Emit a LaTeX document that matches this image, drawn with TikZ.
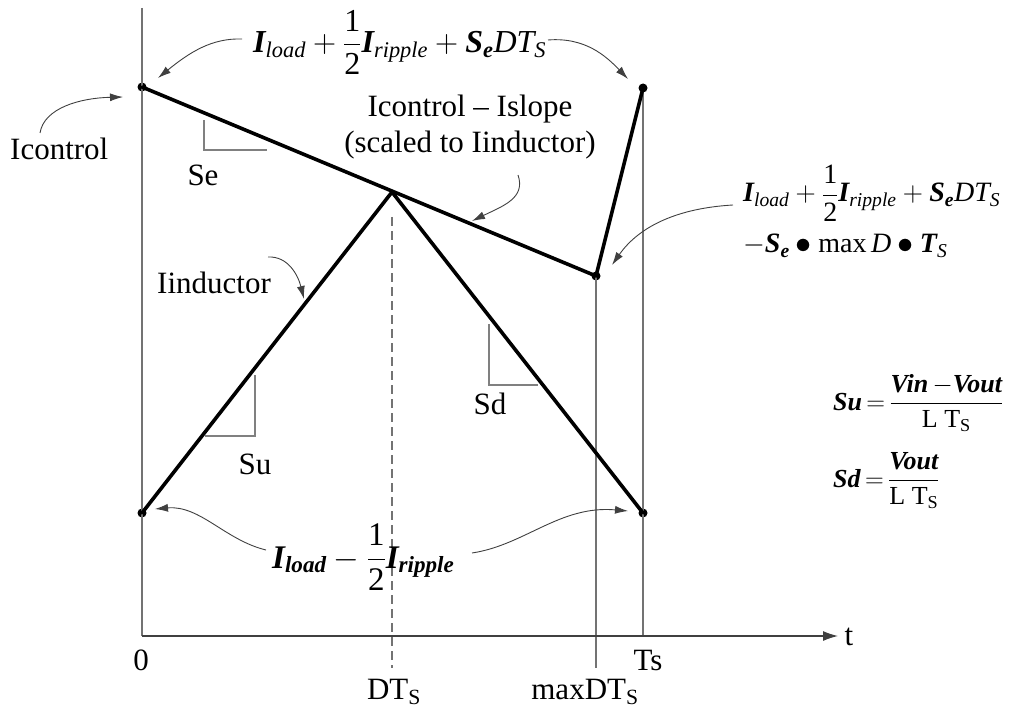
\RequirePackage{fix-cm}
\documentclass[tikz,border=0pt]{standalone}
\usepackage{amsmath}
\usepackage{fontspec}
\setmainfont{Liberation Serif}
\usetikzlibrary{arrows.meta}
\newcommand\bi[1]{\text{\bfseries\itshape #1}}
\newcommand\ii[1]{\text{\itshape #1}}
\newcommand\rr[1]{\text{\upshape #1}}
\newcommand\bul{\mathbin{\vcenter{\hbox{\scalebox{1.15}{$\bullet$}}}}}
\begin{document}
\begin{tikzpicture}[x=1pt,y=-1pt,
  thickline/.style={line width=3.6pt, line cap=round, line join=round},
  guide/.style={line width=1.1pt, draw=black!55},
  axisline/.style={line width=1.2pt, draw=black!75},
  bracket/.style={line width=1.1pt, draw=black!50},
  dot/.style={circle, fill=black, inner sep=0pt, minimum size=9pt},
  callout/.style={line width=0.9pt, draw=black!75, -{Latex[length=13pt,width=8pt]}},
  lbl/.style={inner sep=0pt, font=\fontsize{31}{36}\selectfont},
  fmt/.style={inner sep=0pt, font=\fontsize{32}{38}\selectfont},
  fmr/.style={inner sep=0pt, font=\fontsize{28}{34}\selectfont},
  fmb/.style={inner sep=0pt, font=\fontsize{33}{40}\selectfont},
  fms/.style={inner sep=0pt, font=\fontsize{26}{31}\selectfont}
]
\useasboundingbox (0,0) rectangle (1011,711);

% key points
\node[dot] (c0) at (142,87) {};
\node[dot] (cm) at (596,276) {};
\node[dot] (c1) at (643,88) {};
\node[dot] (b0) at (142,513) {};
\node[dot] (b1) at (643,513) {};
\coordinate (pk) at (392,192);
\coordinate (ytop) at (142,8);
\coordinate (o) at (142,636);
\coordinate (tend) at (838,636);
\coordinate (tsb) at (643,636);
\coordinate (mxb) at (596,668);
\coordinate (dtop) at (392,217);
\coordinate (dbot) at (392,668);

% guides
\draw[guide] (ytop) -- (o);
\draw[guide] (c1.center) -- (tsb);
\draw[guide] (cm.center) -- (mxb);
\draw[guide, dash pattern=on 9pt off 5pt] (dtop) -- (dbot);
\draw[axisline, -{Latex[length=15pt,width=10pt]}] (o) -- (tend);

% slope brackets
\draw[bracket] (204,120) -- (204,150) -- (267,150);
\draw[bracket] (255,375) -- (255,436) -- (205,436);
\draw[bracket] (489,324) -- (489,385) -- (538,385);

% waveforms
\draw[thickline] (c0.center) -- (cm.center) -- (c1.center);
\draw[thickline] (b0.center) -- (pk) -- (b1.center);

% labels
\node[lbl] (Se) at (203,175) {Se};
\node[lbl] (Su) at (255,464) {Su};
\node[lbl] (Sd) at (490,404) {Sd};
\node[lbl, anchor=base west] (icl) at (10,160) {Icontrol};
\node[lbl, anchor=base west] (iind) at (157,293) {Iinductor};
\node[lbl, anchor=base] (isl1) at (470,117) {Icontrol -- Islope};
\node[lbl, anchor=base] (isl2) at (470,153) {(scaled to Iinductor)};

\node[lbl] (l0) at (141,660) {0};
\node[lbl] (lts) at (648,660) {Ts};
\node[lbl] (lt) at (849,637) {t};
\node[lbl] (ldt) at (394,692) {DT$_{\text{S}}$};
\node[lbl] (lmx) at (585,692) {maxDT$_{\text{S}}$};

% formulas
\node[fmt, anchor=base west] (ftop) at (253,53)
  {$\bi{I}_{\ii{load}}+\dfrac{\rr{1}}{\rr{2}}\bi{I}_{\ii{ripple}}+\bi{S}_{\bi{e}}\ii{DT}_{\ii{S}}$};
\node[fmr, anchor=base west] (fr1) at (743,202)
  {$\bi{I}_{\ii{load}}+\dfrac{\rr{1}}{\rr{2}}\bi{I}_{\ii{ripple}}+\bi{S}_{\bi{e}}\ii{DT}_{\ii{S}}$};
\node[fmr, anchor=base west] (fr2) at (743,253)
  {$-\bi{S}_{\bi{e}}\bul\rr{max}\,\ii{D}\bul\bi{T}_{\ii{S}}$};
\node[fmb, anchor=base west] (fbot) at (272,568)
  {$\bi{I}_{\bi{load}}-\dfrac{\rr{1}}{\rr{2}}\bi{I}_{\bi{ripple}}$};
\node[fms, anchor=base west] (fsu) at (833,410)
  {$\bi{Su}\,{=}\,\dfrac{\bi{Vin}\,{-}\bi{Vout}}{\rr{L T}_{\rr{S}}}$};
\node[fms, anchor=base west] (fsd) at (833,487)
  {$\bi{Sd}\,{=}\,\dfrac{\bi{Vout}}{\rr{L T}_{\rr{S}}}$};

% callout arrows
\coordinate (a1s) at (242,39);  \coordinate (a1e) at (158,78);
\coordinate (a2s) at (548,40);  \coordinate (a2e) at (628,79);
\coordinate (a3s) at (40,133);  \coordinate (a3e) at (123,97);
\coordinate (a4s) at (518,175); \coordinate (a4e) at (472,221);
\coordinate (a5s) at (268,257); \coordinate (a5e) at (304,299);
\coordinate (a6s) at (733,205); \coordinate (a6e) at (612,265);
\coordinate (a7s) at (266,550); \coordinate (a7e) at (155,509);
\coordinate (a8s) at (472,553); \coordinate (a8e) at (628,511);
\draw[callout] (a1s) .. controls (212,38) and (190,52) .. (a1e);
\draw[callout] (a2s) .. controls (585,37) and (606,56) .. (a2e);
\draw[callout] (a3s) .. controls (44,108) and (80,98) .. (a3e);
\draw[callout] (a4s) .. controls (526,198) and (503,206) .. (a4e);
\draw[callout] (a5s) .. controls (288,256) and (298,275) .. (a5e);
\draw[callout] (a6s) .. controls (680,208) and (640,225) .. (a6e);
\draw[callout] (a7s) .. controls (225,540) and (200,505) .. (a7e);
\draw[callout] (a8s) .. controls (525,545) and (560,505) .. (a8e);
\end{tikzpicture}
\end{document}
